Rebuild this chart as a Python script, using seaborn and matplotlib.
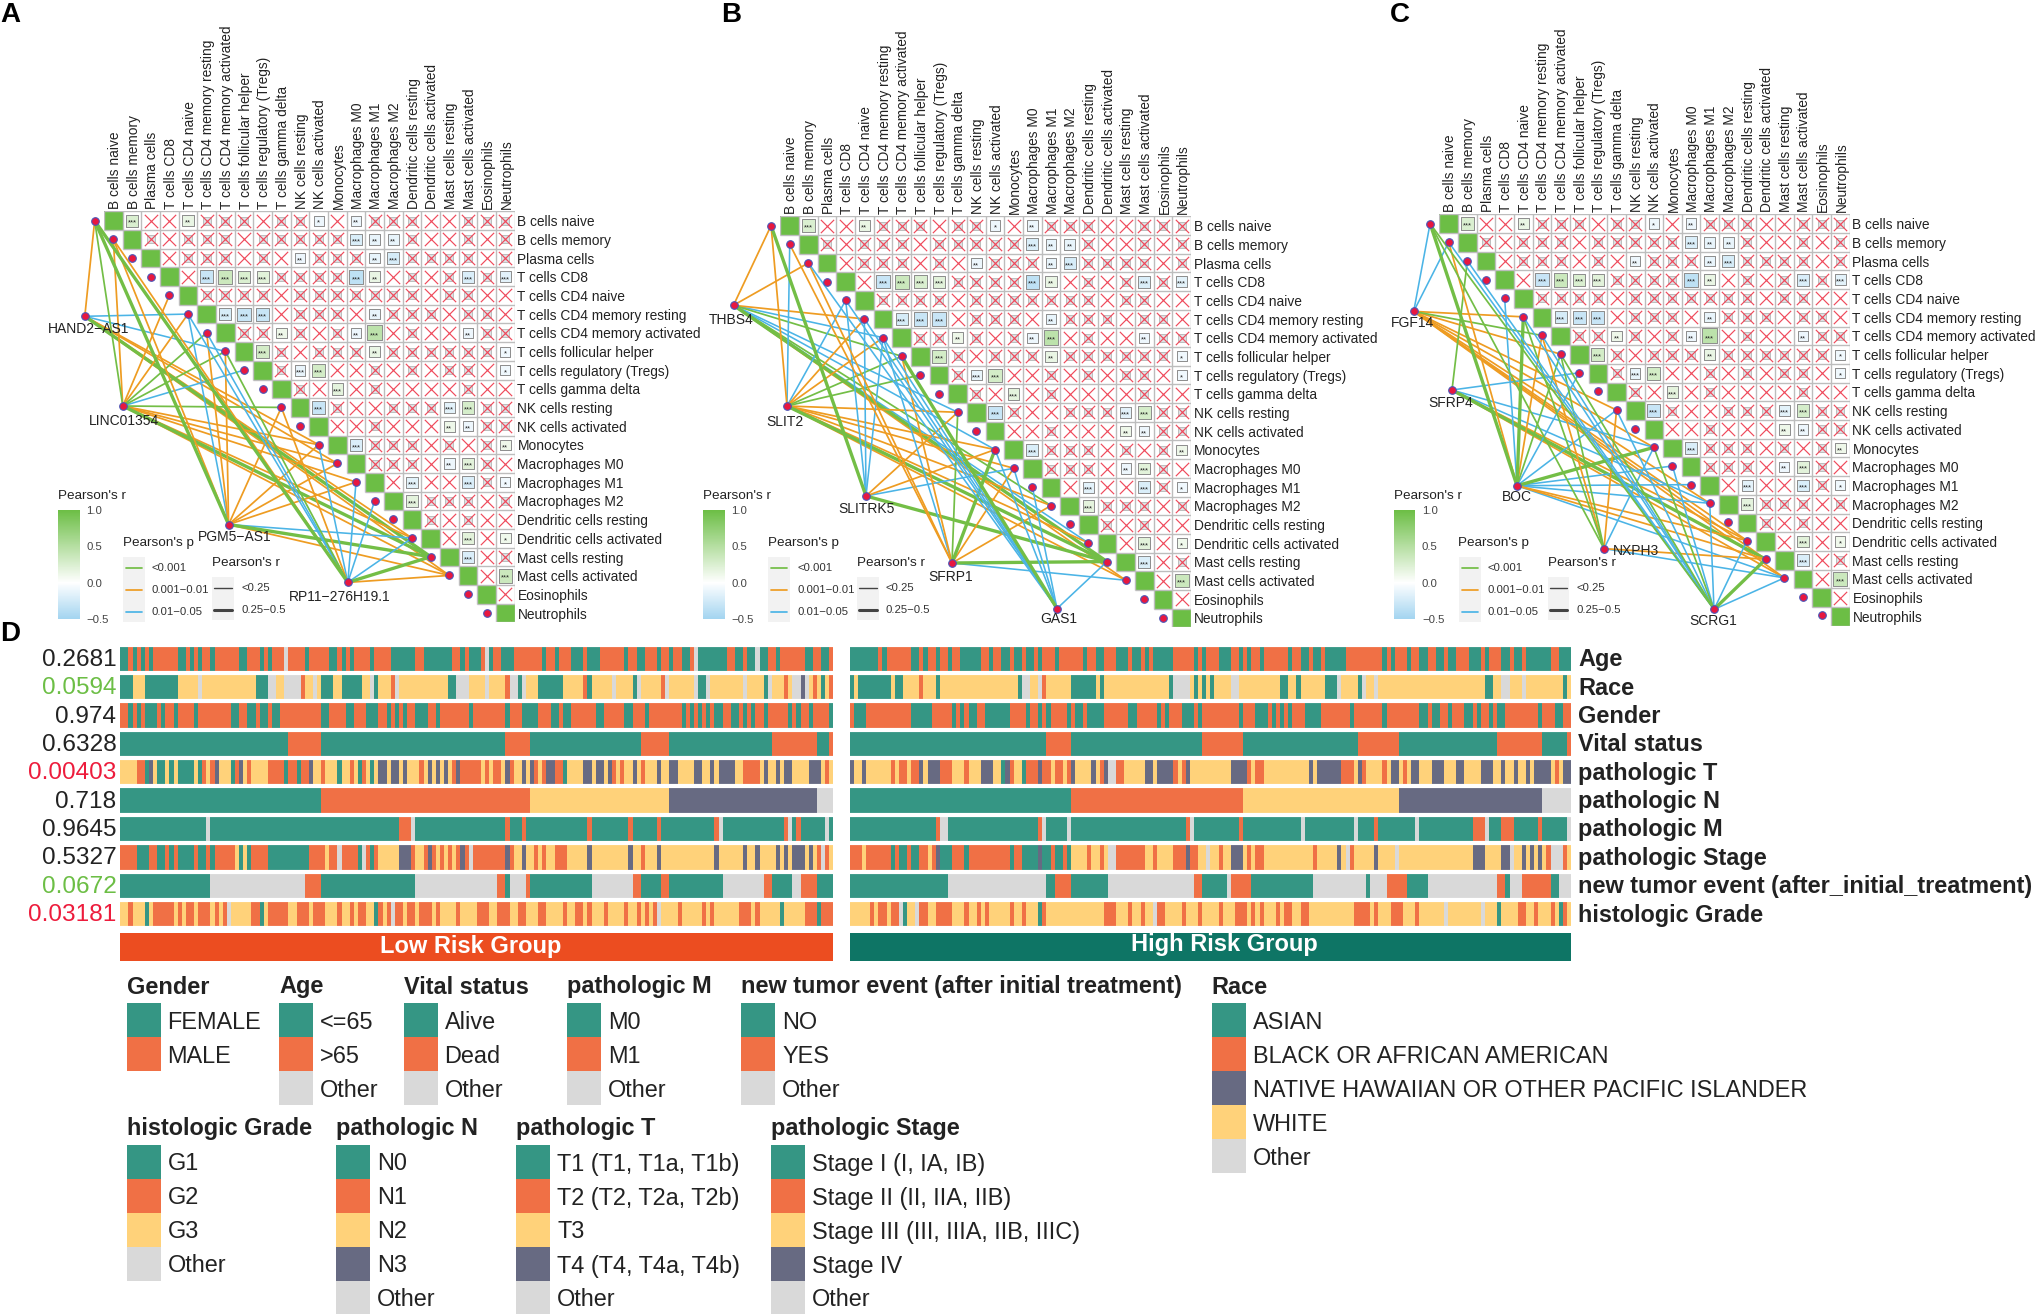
import matplotlib
matplotlib.use('Agg')
import matplotlib.pyplot as plt
import matplotlib.cm as cm
from matplotlib.colors import LinearSegmentedColormap, ListedColormap, Normalize
from matplotlib.patches import Rectangle
import numpy as np
import pandas as pd
import seaborn as sns

W, H = 2041, 1314

sns.set_style('white')
plt.rcParams['font.family'] = ['Liberation Sans', 'DejaVu Sans']

cell_types = ['B cells naive', 'B cells memory', 'Plasma cells', 'T cells CD8', 'T cells CD4 naive',
              'T cells CD4 memory resting', 'T cells CD4 memory activated', 'T cells follicular helper',
              'T cells regulatory (Tregs)', 'T cells gamma delta', 'NK cells resting', 'NK cells activated',
              'Monocytes', 'Macrophages M0', 'Macrophages M1', 'Macrophages M2', 'Dendritic cells resting',
              'Dendritic cells activated', 'Mast cells resting', 'Mast cells activated', 'Eosinophils',
              'Neutrophils']

# significant cell-cell correlations: (row, column, r, stars)
sig_cells = [
    (0, 1, 0.25, '***'), (0, 4, 0.15, '**'), (0, 11, -0.1, '*'), (0, 13, -0.1, '**'),
    (1, 13, -0.2, '***'), (1, 14, -0.12, '**'), (1, 15, -0.12, '**'),
    (2, 10, -0.1, '**'), (2, 14, -0.12, '**'), (2, 15, -0.22, '***'),
    (3, 5, -0.3, '***'), (3, 6, 0.35, '***'), (3, 7, 0.25, '***'), (3, 8, 0.2, '***'),
    (3, 13, -0.35, '***'), (3, 14, 0.15, '**'), (3, 19, -0.2, '***'), (3, 21, -0.15, '***'),
    (5, 6, -0.22, '***'), (5, 7, -0.3, '***'), (5, 8, -0.3, '***'), (5, 14, -0.12, '**'),
    (6, 9, 0.12, '**'), (6, 13, -0.1, '**'), (6, 14, 0.45, '***'), (6, 19, -0.1, '**'),
    (7, 8, 0.3, '***'), (7, 14, 0.15, '**'), (7, 21, -0.08, '*'),
    (8, 10, -0.12, '***'), (8, 11, 0.3, '***'), (8, 21, -0.08, '*'),
    (9, 12, 0.18, '***'),
    (10, 11, -0.3, '***'), (10, 18, -0.15, '***'), (10, 19, 0.28, '***'),
    (11, 18, 0.12, '**'), (11, 19, -0.1, '**'),
    (12, 13, -0.2, '***'), (12, 21, 0.12, '**'),
    (13, 18, -0.1, '**'), (13, 19, 0.2, '***'),
    (14, 16, -0.15, '***'), (14, 19, -0.2, '***'), (14, 21, -0.08, '*'),
    (15, 16, 0.18, '***'),
    (17, 19, 0.2, '***'), (17, 21, 0.1, '*'),
    (18, 19, -0.2, '***'),
    (19, 21, 0.35, '***'),
]

# non significant cells that still show a faint square under the cross
pale_cells = {
    0: [5, 6, 7, 9, 10, 14, 15, 16, 19, 20, 21],
    1: [2, 4, 5, 6, 8, 9, 10, 11, 12, 16, 19, 21],
    2: [4, 5, 6, 8, 11, 12, 13, 16, 17, 18, 19, 21],
    3: [9, 10, 11, 12, 16, 18, 20],
    4: [5, 6, 7, 8, 10, 11, 12, 13, 14, 15, 16, 18, 19],
    5: [10, 11, 12, 15, 16, 17, 19, 20],
    6: [7, 8, 10, 12, 16, 20, 21],
    7: [9, 11, 12, 13, 15, 16, 17, 18, 19, 20],
    8: [9, 14, 16, 18, 19],
    9: [10, 14, 19],
    10: [12, 15, 16, 17, 20, 21],
    11: [14, 20, 21],
    12: [14, 15, 16, 18, 20],
    13: [14, 15, 16, 20],
    14: [16, 20],
    15: [17, 18, 19, 21],
    16: [17, 19],
    18: [21],
}

# gene-cell edges per panel: thick green, thin green, orange, blue
edges_a = {
    'HAND2−AS1': ([18], [], [0, 12, 13, 17, 19], [5, 7]),
    'LINC01354': ([18], [0, 6, 7, 10], [1, 4, 5, 12, 13, 14, 17, 19], [8]),
    'PGM5−AS1': ([0, 18], [], [1, 6, 7, 10, 12, 13, 14, 19], [5, 17]),
    'RP11−276H19.1': ([0, 18], [7], [1, 10, 19], [5, 6, 12, 14, 15, 17]),
}
edges_b = {
    'THBS4': ([18], [7, 15], [0, 2, 5, 19], [6, 10, 12, 17]),
    'SLIT2': ([18], [7, 8], [0, 5, 6, 10, 12, 13, 15, 17, 19], [1, 4]),
    'SLITRK5': ([0, 18], [], [10, 12], [4, 5, 6, 13]),
    'SFRP1': ([12, 18], [10], [1, 2, 7, 13, 15], [6, 19]),
    'GAS1': ([7], [], [], [2, 4, 5, 6, 12, 13, 14, 18]),
}
edges_c = {
    'FGF14': ([], [6], [5, 7, 10, 12, 15, 17, 18, 19], [0, 1]),
    'SFRP4': ([18], [2], [17, 19], [8, 12, 15]),
    'BOC': ([0, 5, 12], [7], [1, 6, 17, 18], [4, 8, 10, 13, 14, 15, 19]),
    'NXPH3': ([], [0, 5, 7], [6, 10, 18], [12, 19]),
    'SCRG1': ([18], [0, 7, 12], [], [1, 2, 5, 6, 10, 13, 15, 17, 19]),
}

# clinical tracks as runs of samples: t, o, y, p, g = first, second, third, fourth class, other
low_age = 't2 o1 t1 o1 t1 o1 t1 o6 t2 o1 t1 o1 t1 o2 t1 o6 t2 o3 t1 o1 t1 o3 g1 o4 t1 o5 t2 o1 t1 o1 t1 o4 t1 o4 t6 o2 t7 o2 t1 o1 t3 o1 g1 t1 o2 t3 o7 t1 o2 t1 o3 t3 o1 t3 o6 t1 o2 t2 o3 t1 o2 t1 o2 t2 o1 g1 t7 o2 t2 o1 t2 g1 t2 o2 t1 o6 t2 o2 t2 o1'
low_race = 't3 y3 t8 y5 g1 y13 t3 g2 y2 g4 o1 y2 g1 y1 t3 y2 t5 y2 g1 t1 y3 o1 g1 y12 t2 g3 y3 y1 g1 y4 o1 g2 t1 g1 y3 t6 y5 o1 t1 y5 g1 y4 t1 g1 y5 o1 g1 y6 g1 t2 g1 y8 g1 y4 t1 g1 y3 o1 y1 g2 p1 g1 y1 o1 y1 t1 y1 o1'
low_gender = 'o2 t1 o1 t1 o1 t3 o1 t1 o2 t1 o4 t1 o8 t2 o2 t2 o1 t2 o1 t2 o10 t2 o4 t2 o3 t3 o2 t1 o1 t1 o1 t1 o2 t3 o2 t1 o7 t1 o2 o6 t1 o3 t4 o3 t2 o1 t2 o6 t2 o5 t2 o3 t1 o8 t1 o1 t1 o1 t1 o1 t1 o1 t2 o2 t2 o1 t1 o1 t1 o2 t1 o5 t1 o1 t1 o2 t1 o4 t1'
low_vital = 't41 o8 t45 o6 t27 o7 t25 o11 t3 o1'
low_t = 'y4 o2 t1 p1 y1 t2 y1 t1 y1 t4 y1 t1 o1 y1 o1 p1 y3 t1 o1 p1 y1 o1 y4 o4 t1 o2 t1 o2 p1 y2 o1 y3 t1 y2 o1 y1 t1 o1 y1 t1 y1 p2 y1 p2 y1 p1 y3 o1 y1 p1 y1 p1 y1 p1 y1 o1 p1 o5 y1 o1 y1 o2 y1 p1 o1 y2 p1 y1 p1 o1 y1 o1 p2 o2 t1 y4 p2 y1 p2 y1 p1 o1 y1 o1 y2 p1 y1 o1 y3 p1 y2 p2 y4 p2 y2 p1 y1 p4 y2 o4 y1 p1 y2 p1 y1 p2 y4 p3 y1 o1 y1'
low_n = 't49 o51 y34 p36 g4'
low_m = 't21 g1 t46 o3 g1 t22 o1 t3 o1 t15 o1 t9 o1 t6 o1 t13 o1 g1 t15 o1 g1 t1 o1 t6 g1 t1'
low_stage = 'o4 t3 o2 t2 o1 t1 o1 t4 o1 t2 o1 t1 o5 y1 t1 y1 t1 o4 t10 o4 y1 o2 g1 o4 t1 g1 o1 t1 o1 y5 p3 o1 y2 o1 p1 o1 y1 o1 y1 o1 y1 o1 p1 o1 g1 o8 p1 o1 y2 p1 y2 o1 y1 o1 y2 o3 y5 p1 y9 p1 y2 o1 y3 p1 y13 p1 y6 p1 y2 p1 y4 p1 y1 p1 y1 p3 y1 p1 y1 o1 g1 o1 y1'
low_tumor = 't22 g23 o4 t23 g20 o2 t1 g4 o1 t15 g10 o2 t5 o2 t13 g10 o2 t5 g2 o4 t4'
low_grade = 'y2 o1 y3 t1 y1 o5 y1 o1 y1 o2 y1 o3 y1 o1 y1 o1 g1 y5 o2 t1 y1 o5 y2 o3 y1 o3 y3 o1 y2 o1 y1 o2 y2 t1 o1 y1 o1 g1 o2 y1 o2 y1 o3 y1 o1 y4 o1 y4 o3 y2 o3 y2 o2 y3 o2 y4 o1 y2 o2 y1 o1 y3 o1 y4 o1 y2 o1 y1 o1 y1 o1 g1 y4 o1 y5 o1 y1 o1 y6 o3 y1 o1 y5 t1 y5 o3 t1 o3'

high_age = 't7 o1 t1 o6 t2 o1 t1 o2 t1 o2 t1 o2 t5 o2 t1 o2 t2 o1 t2 o1 t2 o1 t1 o3 t1 o6 t1 o2 t2 o3 t3 o1 t2 o1 t1 o1 t5 o5 t1 o1 t1 o3 t3 o2 t1 o1 t1 o2 t1 o2 o4 t1 o2 t2 o1 t2 o1 t5 o9 t1 o1 t1 o3 t1 o2 t2 o2 t2 o1 t2 o3 t3 o1 t1 o3 t2 o1 t2 o1 t6 o2 t3'
high_race = 't1 y1 t8 y1 t2 y4 o1 y3 t1 y19 t1 g2 y2 g1 o1 y6 t6 y1 t1 y16 t1 g4 y1 t1 y1 t1 y1 t1 y4 g2 y10 t2 y2 t1 y6 t3 g1 y4 t1 g1 y2 g1 y26 t2 y2 g2 y3 g1 y9 t1 y1'
high_gender = 'o1 t3 o11 t5 o5 t1 o1 t1 o1 t2 o2 t6 o4 t1 o2 t1 o1 t1 o4 t1 o1 t2 o1 t4 o6 t2 o5 t1 o1 t1 o3 t3 o1 t1 o9 t1 o3 t3 o1 t1 o1 t1 o1 t1 o3 t4 o7 t1 o7 t1 o8 t2 o1 t2 o2 t1 o3 t2 o1 t1 o2 t1 o1 t2 o8 t1 o3 t2 o2'
high_vital = 't48 o6 t32 o10 t28 o10 t24 o11 t6 o1'
high_t = 'p1 y2 p1 y6 o1 y1 o2 y1 o2 p1 y1 p3 o3 y3 o1 y3 p3 y2 t1 p1 o1 y2 t1 o3 p1 o2 y1 o2 y1 o1 p1 y4 p1 y1 o1 p1 g2 o2 y5 p2 y1 p4 o1 y1 o1 p1 y10 p4 o1 y1 o2 y11 p1 y1 p6 o3 y1 p1 o1 y4 o1 y1 p2 y1 o1 y1 p2 y3 p3 y3 p2 y4 p3 y2 p1 y2 p1 y2 p1 y1 p4 y1 o1 y1 p1'
high_n = 't54 o42 y38 p35 g7'
high_m = 't21 o1 g2 t22 o1 g1 t5 g1 t28 o1 g1 t11 o1 t14 g1 t12 g1 t4 o1 t9 g1 t13 o3 g1 t3 o3 t6 o1 t6 g1'
high_stage = 'o3 y1 o6 t1 o1 t2 o1 t2 o2 y1 o1 p1 t3 o3 t1 o10 t1 o2 t4 p1 t2 o1 t2 o1 t1 y4 o1 y2 o1 y1 g2 o7 y2 o1 y4 o3 p1 o2 y2 g1 y2 o1 y2 p3 y1 o1 y1 o2 y12 o1 y5 p1 y1 g1 o1 y5 p1 y4 g1 y18 p3 y4 p2 g1 y2 p1 y1 p1 y1 p1 y1 o1 g3 o1 y1'
high_tumor = 't24 g24 t2 o4 t9 g21 o2 t6 g1 o5 t15 g13 t1 g4 o5 t5 g17 o2 t1 g3 o7 t2 g4 t1'
high_grade = 'y5 o1 y1 o2 y1 o2 g1 t1 y2 g1 o2 y2 o4 y3 o1 y2 o1 y1 o1 y5 o1 y2 o1 y3 t1 o1 y14 o3 y3 o1 y2 o1 y2 g1 o2 y4 o1 y3 o1 y3 y1 o1 y3 o3 y1 o1 y1 o1 y3 o1 y1 o2 y2 o2 y11 o4 y1 o1 y3 o3 y3 o1 y6 g1 y8 g1 y3 t1 y4 o2 y2 o1 y3 o1 y1 t1 o1 y1 g1'

low_tracks = [low_age, low_race, low_gender, low_vital, low_t, low_n, low_m, low_stage, low_tumor, low_grade]
high_tracks = [high_age, high_race, high_gender, high_vital, high_t, high_n, high_m, high_stage, high_tumor, high_grade]
n_low, n_high = 174, 176

track_names = ['Age', 'Race', 'Gender', 'Vital status', 'pathologic T', 'pathologic N', 'pathologic M',
               'pathologic Stage', 'new tumor event (after_initial_treatment)', 'histologic Grade']
track_p = ['0.2681', '0.0594', '0.974', '0.6328', '0.00403', '0.718', '0.9645', '0.5327', '0.0672', '0.03181']
p_colors = ['#222222', '#6CBE45', '#222222', '#222222', '#ED1C3C', '#222222', '#222222', '#222222', '#6CBE45', '#ED1C3C']

TEAL, ORANGE, YELLOW, SLATE, GREY = '#359684', '#F07045', '#FFD27A', '#676A82', '#D9D9D9'
code = {'t': 0, 'o': 1, 'y': 2, 'p': 3, 'g': 4}
track_cmap = ListedColormap([TEAL, ORANGE, YELLOW, SLATE, GREY])

legend_groups = [
    ('Gender', 126.6, 987, 1003.3, ['FEMALE', 'MALE'], [TEAL, ORANGE]),
    ('Age', 279, 987, 1003.3, ['<=65', '>65', 'Other'], [TEAL, ORANGE, GREY]),
    ('Vital status', 403.6, 987, 1003.3, ['Alive', 'Dead', 'Other'], [TEAL, ORANGE, GREY]),
    ('pathologic M', 567, 987, 1003.3, ['M0', 'M1', 'Other'], [TEAL, ORANGE, GREY]),
    ('new tumor event (after initial treatment)', 741, 987, 1003.3, ['NO', 'YES', 'Other'], [TEAL, ORANGE, GREY]),
    ('Race', 1211.6, 987, 1003.3, ['ASIAN', 'BLACK OR AFRICAN AMERICAN', 'NATIVE HAWAIIAN OR OTHER PACIFIC ISLANDER',
                                   'WHITE', 'Other'], [TEAL, ORANGE, SLATE, YELLOW, GREY]),
    ('histologic Grade', 126.6, 1128.5, 1144.5, ['G1', 'G2', 'G3', 'Other'], [TEAL, ORANGE, YELLOW, GREY]),
    ('pathologic N', 336, 1128.5, 1144.5, ['N0', 'N1', 'N2', 'N3', 'Other'], [TEAL, ORANGE, YELLOW, SLATE, GREY]),
    ('pathologic T', 516, 1128.5, 1144.5, ['T1 (T1, T1a, T1b)', 'T2 (T2, T2a, T2b)', 'T3', 'T4 (T4, T4a, T4b)', 'Other'],
     [TEAL, ORANGE, YELLOW, SLATE, GREY]),
    ('pathologic Stage', 771, 1128.5, 1144.5, ['Stage I (I, IA, IB)', 'Stage II (II, IIA, IIB)',
                                               'Stage III (III, IIIA, IIB, IIIC)', 'Stage IV', 'Other'],
     [TEAL, ORANGE, YELLOW, SLATE, GREY]),
]

# layout of the three correlation panels, in pixels
panels = [
    {'letter': 'A', 'letter_x': 10, 'box': (104, 211.4, 514.7, 622.4), 'legend_x': 58, 'edges': edges_a,
     'genes': {'HAND2−AS1': (84.8, 316.3, 89, 329), 'LINC01354': (122.8, 406, 123.7, 421),
               'PGM5−AS1': (228.6, 524.5, 235, 537), 'RP11−276H19.1': (347.8, 582.4, 340, 597)}},
    {'letter': 'B', 'letter_x': 731, 'box': (780.4, 216.3, 1191, 627.3), 'legend_x': 703, 'edges': edges_b,
     'genes': {'THBS4': (733.5, 305.3, 731, 320), 'SLIT2': (787, 406, 785, 422), 'SLITRK5': (866, 496, 866.5, 509),
               'SFRP1': (952, 563, 951, 577), 'GAS1': (1057, 608.6, 1059, 619)}},
    {'letter': 'C', 'letter_x': 1400, 'box': (1439.4, 214.3, 1849.6, 625.7), 'legend_x': 1393.5, 'edges': edges_c,
     'genes': {'FGF14': (1413.7, 311.4, 1412.5, 323), 'SFRP4': (1452, 390, 1451, 403), 'BOC': (1517, 485.7, 1517, 497),
               'NXPH3': (1604, 548.6, 1636, 550.6), 'SCRG1': (1714, 609.4, 1713, 621)}},
]

GREEN, LINE_GREEN, LINE_ORANGE, LINE_BLUE = '#6CBE45', '#73BE46', '#EE9C22', '#4BB4E6'
corr_cmap = LinearSegmentedColormap.from_list('corr', [(0, '#A3D4F0'), (1 / 3, '#FFFFFF'), (1, GREEN)])
corr_norm = Normalize(-0.5, 1)
LABEL = 9.95


def px_axes(x0, y0, x1, y1):
    return fig.add_axes([x0 / W, 1 - y1 / H, (x1 - x0) / W, (y1 - y0) / H])


def expand(runs, n):
    out = []
    for tok in runs.split():
        out += [code[tok[0]]] * int(tok[1:])
    out = out[:n]
    return out + [out[-1]] * (n - len(out))


fig = plt.figure(figsize=(W / 100, H / 100), dpi=100, facecolor='white')

n = len(cell_types)
base = np.eye(n)
lower = np.tril(np.ones((n, n), dtype=bool), -1)
sig_df = pd.DataFrame(sig_cells, columns=['row', 'col', 'r', 'stars'])
sig_df['x'] = sig_df['col'] + 0.5
sig_df['y'] = sig_df['row'] + 0.5
sig_df['abs_r'] = sig_df['r'].abs()
pale_df = pd.DataFrame([(r, c, 0.05) for r, cols in pale_cells.items() for c in cols], columns=['row', 'col', 'r'])
pale_df['x'] = pale_df['col'] + 0.5
pale_df['y'] = pale_df['row'] + 0.5
sig_pairs = set(zip(sig_df['row'], sig_df['col']))
cross_df = pd.DataFrame([(c + 0.5, r + 0.5) for r in range(n) for c in range(r + 1, n) if (r, c) not in sig_pairs],
                        columns=['x', 'y'])

for panel in panels:
    x0, y0, x1, y1 = panel['box']
    ax = px_axes(x0, y0, x1, y1)
    sns.heatmap(base, mask=lower, cmap=ListedColormap(['white', GREEN]), vmin=0, vmax=1, cbar=False,
                xticklabels=cell_types, yticklabels=cell_types, square=False, ax=ax)
    # grid only along the upper triangle, the masked half stays empty
    for k in range(n + 1):
        ax.hlines(k, max(k - 1, 0), n, color='#BDBDBD', lw=1.0, zorder=2)
        ax.vlines(k, 0, min(k + 1, n), color='#BDBDBD', lw=1.0, zorder=2)
    sns.scatterplot(data=pale_df, x='x', y='y', marker='s', color='#DCE3E6', s=34, edgecolor='#B5B5B5',
                    linewidth=0.6, legend=False, ax=ax, zorder=3)
    sns.scatterplot(data=sig_df, x='x', y='y', hue='r', size='abs_r', hue_norm=corr_norm, palette=corr_cmap,
                    size_norm=(0, 0.5), sizes=(38, 123), marker='s', edgecolor='#8C8C8C', linewidth=0.7,
                    legend=False, ax=ax, zorder=3)
    sns.scatterplot(data=cross_df, x='x', y='y', marker='x', color='#EF4A5C', s=92, linewidth=0.85,
                    legend=False, ax=ax, zorder=4)
    for _, row in sig_df.iterrows():
        ax.text(row['x'], row['y'] + 0.14, row['stars'], fontsize=5.5, ha='center', va='center', color='#222222',
                zorder=5)
    ax.tick_params(length=0, labelsize=LABEL, labeltop=True, labelbottom=False, labelright=True, labelleft=False,
                   top=False, bottom=False, pad=2, labelcolor='#222222')
    ax.xaxis.set_ticks_position('top')
    ax.yaxis.set_ticks_position('right')
    plt.setp(ax.get_xticklabels(), rotation=90, ha='left', va='center_baseline', rotation_mode='anchor')
    plt.setp(ax.get_yticklabels(), rotation=0, va='center_baseline')
    ax.set_xlabel('')
    ax.set_ylabel('')
    ax.set_xlim(0, n)
    ax.set_ylim(n, 0)

    lx = panel['legend_x']
    cax = px_axes(lx, 510, lx + 21.5, 619)
    cbar = fig.colorbar(cm.ScalarMappable(norm=corr_norm, cmap=corr_cmap), cax=cax, ticks=[-0.5, 0, 0.5, 1])
    cbar.outline.set_visible(False)
    cbar.ax.tick_params(length=0, labelsize=8.2, labelcolor='#444444', pad=5)
    cbar.ax.set_yticklabels(['−0.5', '0.0', '0.5', '1.0'])

# overlay in pixel coordinates for networks, legends and labels
ov = fig.add_axes([0, 0, 1, 1], zorder=10)
ov.set_xlim(0, W)
ov.set_ylim(H, 0)
ov.axis('off')

for panel in panels:
    x0, y0, x1, y1 = panel['box']
    c = (x1 - x0) / n
    node_x = [x0 + (i - 0.5) * c for i in range(n)]
    node_y = [y0 + (i + 0.5) * c for i in range(n)]
    for gene, (thick, thin, orange, blue) in panel['edges'].items():
        gx, gy = panel['genes'][gene][:2]
        for cells, col, lw in [(blue, LINE_BLUE, 1.15), (orange, LINE_ORANGE, 1.25), (thin, LINE_GREEN, 1.25),
                               (thick, LINE_GREEN, 2.4)]:
            for i in cells:
                ov.plot([gx, node_x[i]], [gy, node_y[i]], color=col, lw=lw, solid_capstyle='round', zorder=2)
    dots = pd.DataFrame({'x': node_x + [g[0] for g in panel['genes'].values()],
                         'y': node_y + [g[1] for g in panel['genes'].values()]})
    sns.scatterplot(data=dots, x='x', y='y', color='#E8173F', edgecolor='#4A55B8', linewidth=0.8, s=30, legend=False,
                    ax=ov, zorder=3)
    for gene, (_, _, tx, ty) in panel['genes'].items():
        ov.text(tx, ty, gene, fontsize=10, ha='center', va='center', color='#222222', zorder=4)

    ov.text(x=panel['letter_x'], y=15, s=panel['letter'], fontsize=20, fontweight='bold', ha='center', va='center',
            color='black')

    lx = panel['legend_x']
    ov.text(lx, 496, "Pearson's r", fontsize=9.7, ha='left', va='center', color='#222222')
    px = lx + 65
    ov.text(px, 543, "Pearson's p", fontsize=9.7, ha='left', va='center', color='#222222')
    ov.add_patch(Rectangle((px, 557), 22, 65, facecolor='#F2F2F2', edgecolor='none', zorder=1))
    for ky, col, lab in zip([568, 590, 612], [LINE_GREEN, LINE_ORANGE, LINE_BLUE], ['<0.001', '0.001−0.01', '0.01−0.05']):
        ov.plot([px + 3, px + 19], [ky, ky], color=col, lw=1.25, zorder=2)
        ov.text(px + 29, ky, lab, fontsize=8.2, ha='left', va='center', color='#333333')
    rx = lx + 154
    ov.text(rx, 563, "Pearson's r", fontsize=9.7, ha='left', va='center', color='#222222')
    ov.add_patch(Rectangle((rx, 577), 21.5, 43, facecolor='#F2F2F2', edgecolor='none', zorder=1))
    for ky, lw, lab in zip([588, 610], [1.0, 2.2], ['<0.25', '0.25−0.5']):
        ov.plot([rx + 2, rx + 19.5], [ky, ky], color='#444444', lw=lw, zorder=2)
        ov.text(rx + 29, ky, lab, fontsize=8.2, ha='left', va='center', color='#333333')

# panel D
ov.text(10, 634, 'D', fontsize=20, fontweight='bold', ha='center', va='center', color='black')
pitch = 28.35
top = 644.7
for tracks, count, xa, xb in [(low_tracks, n_low, 120.3, 833.3), (high_tracks, n_high, 849.7, 1571)]:
    mat = np.array([expand(t, count) for t in tracks])
    hax = px_axes(xa, top, xb, top + pitch * len(tracks))
    sns.heatmap(mat, cmap=track_cmap, vmin=-0.5, vmax=4.5, cbar=False, xticklabels=False, yticklabels=False, ax=hax)
    hax.hlines(range(len(tracks) + 1), 0, count, color='white', lw=3.0)

for i, (name, pv, pc) in enumerate(zip(track_names, track_p, p_colors)):
    yc = top + pitch * (i + 0.5)
    ov.text(116.5, yc + 1, pv, fontsize=17.6, ha='right', va='center', color=pc)
    ov.text(1578, yc + 1, name, fontsize=16.9, fontweight='bold', ha='left', va='center', color='#222222')

for xa, xb, col, lab, tx, ty in [(120.3, 833.3, '#EC4D20', 'Low Risk Group', 471, 947),
                                 (849.7, 1571, '#0E7565', 'High Risk Group', 1224, 945)]:
    ov.add_patch(Rectangle((xa, 932.7), xb - xa, 28.4, facecolor=col, edgecolor='none'))
    ov.text(tx, ty, lab, fontsize=17, fontweight='bold', color='white', ha='center', va='center')

for title, lx, ty, sy, labels, colors in legend_groups:
    ov.text(lx, ty, title, fontsize=16.95, fontweight='bold', ha='left', va='center', color='#222222')
    for j, (lab, col) in enumerate(zip(labels, colors)):
        ov.add_patch(Rectangle((lx, sy + j * 34), 34, 34, facecolor=col, edgecolor='none'))
        ov.text(lx + 41, sy + j * 34 + 17, lab, fontsize=16.9, ha='left', va='center_baseline', color='#222222')

fig.savefig('out.png', dpi=100)
